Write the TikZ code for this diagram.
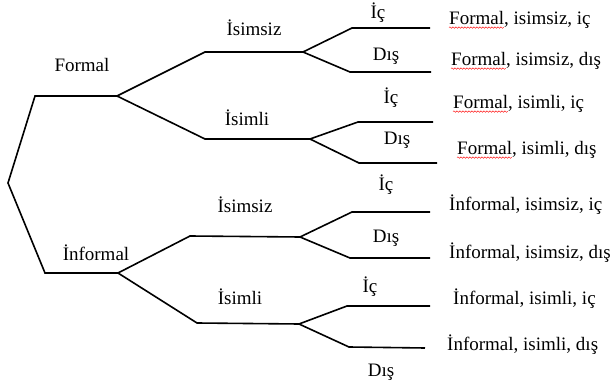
\documentclass[tikz,border=0pt]{standalone}
\usepackage{fontspec}
\setmainfont{Liberation Serif}
\usetikzlibrary{decorations.pathmorphing,calc}
\begin{document}
\begin{tikzpicture}[x=1pt,y=-1pt,
  branch/.style={line width=1.6pt,line join=miter},
  lbl/.style={font=\fontsize{19}{21}\selectfont,inner sep=0pt},
  leaf/.style={lbl,anchor=west},
  wavy/.style={red,line width=0.45pt,decorate,decoration={snake,segment length=3pt,amplitude=0.7pt}}]
\fontsize{19}{21}\selectfont
\useasboundingbox (0,0) rectangle (614,385);
% tree points
\coordinate (root) at (8,183);
\coordinate (fA) at (35,96);   \coordinate (fB) at (117,96);
\coordinate (fsA) at (205,52); \coordinate (fsB) at (303,52);
\coordinate (fiA) at (205,139);\coordinate (fiB) at (310,139);
\coordinate (fsiA) at (352,28);\coordinate (fsiE) at (430,28);
\coordinate (fsdA) at (350,72);\coordinate (fsdE) at (431,72);
\coordinate (fiiA) at (358,122);\coordinate (fiiE) at (433,122);
\coordinate (fidA) at (359,163);\coordinate (fidE) at (437,163);
\coordinate (iA) at (45,273);  \coordinate (iB) at (118,273);
\coordinate (isA) at (190,236);\coordinate (isB) at (300,237);
\coordinate (iiA) at (197,323);\coordinate (iiB) at (299,324);
\coordinate (isiA) at (352,212);\coordinate (isiE) at (430,212);
\coordinate (isdA) at (350,258);\coordinate (isdE) at (430,258);
\coordinate (iiiA) at (347,306);\coordinate (iiiE) at (430,306);
\coordinate (iidA) at (349,347);\coordinate (iidE) at (425,348);
% branches
\draw[branch] (fB) -- (fA) -- (root) -- (iA) -- (iB);
\draw[branch] (fsB) -- (fsA) -- (fB) -- (fiA) -- (fiB);
\draw[branch] (fsiE) -- (fsiA) -- (fsB) -- (fsdA) -- (fsdE);
\draw[branch] (fiiE) -- (fiiA) -- (fiB) -- (fidA) -- (fidE);
\draw[branch] (isB) -- (isA) -- (iB) -- (iiA) -- (iiB);
\draw[branch] (isiE) -- (isiA) -- (isB) -- (isdA) -- (isdE);
\draw[branch] (iiiE) -- (iiiA) -- (iiB) -- (iidA) -- (iidE);
% labels
\node[lbl] (lF) at (82,65) {Formal};
\node[lbl] (lI) at (96,253) {İnformal};
\node[lbl] (lFs) at (254,28) {İsimsiz};
\node[lbl] (lFi) at (247,118) {İsimli};
\node[lbl] (lIs) at (245,205) {İsimsiz};
\node[lbl] (lIi) at (240,297) {İsimli};
\node[lbl] (c1) at (378,13) {İç};
\node[lbl] (d1) at (386,56) {Dış};
\node[lbl] (c2) at (391,98) {İç};
\node[lbl] (d2) at (397,140) {Dış};
\node[lbl] (c3) at (386,185) {İç};
\node[lbl] (d3) at (386,238) {Dış};
\node[lbl] (c4) at (370,287) {İç};
\node[lbl] (d4) at (381,372) {Dış};
% leaves
\node[leaf] (L1) at (449,20) {Formal, isimsiz, iç};
\node[leaf] (L2) at (451,61) {Formal, isimsiz, dış};
\node[leaf] (L3) at (453,104) {Formal, isimli, iç};
\node[leaf] (L4) at (457,150) {Formal, isimli, dış};
\node[leaf] (L5) at (449,205) {İnformal, isimsiz, iç};
\node[leaf] (L6) at (449,253) {İnformal, isimsiz, dış};
\node[leaf] (L7) at (453,299) {İnformal, isimli, iç};
\node[leaf] (L8) at (447,345) {İnformal, isimli, dış};
% spell-check underlines
\pgfmathsetlengthmacro\fw{width("Formal")}
\foreach \n in {L1,L2,L3,L4}{
  \draw[wavy] ($(\n.base west)+(0,3)$) -- ++(\fw,0);
}
\end{tikzpicture}
\end{document}
